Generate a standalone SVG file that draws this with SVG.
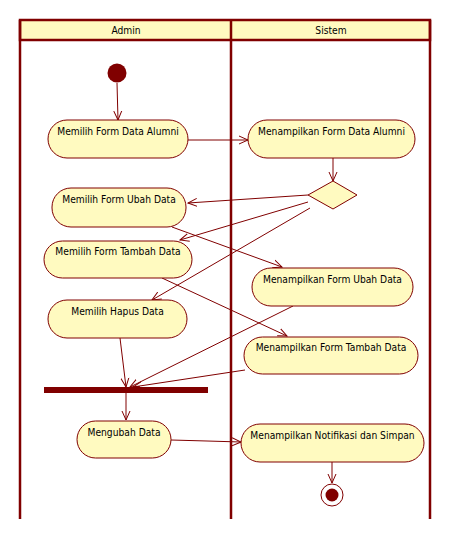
<svg xmlns="http://www.w3.org/2000/svg" width="451" height="539" viewBox="0 0 451 539">
<style>
.lane{fill:none;stroke:#800000;stroke-width:2.5}
.hdr{fill:#FFFAC0;stroke:#800000;stroke-width:2.5}
.act{fill:#FFFAC0;stroke:#800000;stroke-width:1}
.t{font-family:"DejaVu Sans Condensed","Liberation Sans",sans-serif;font-size:10.2px;fill:#000;text-anchor:middle}
.c{fill:none;stroke:#800000;stroke-width:1;marker-end:url(#ah)}
</style>
<defs>
<marker id="ah" viewBox="0 0 10 10" refX="9" refY="5" markerWidth="10" markerHeight="10" markerUnits="userSpaceOnUse" orient="auto">
<path d="M0,1 L9,5 L0,9" fill="none" stroke="#800000" stroke-width="1"/>
</marker>
</defs>
<rect x="0" y="0" width="451" height="539" fill="#fff"/>
<g id="lanes">
<rect class="hdr" x="20" y="20" width="410" height="20"/>
<line class="lane" x1="20" y1="20" x2="20" y2="519"/>
<line class="lane" x1="231" y1="20" x2="231" y2="519"/>
<line class="lane" x1="430" y1="20" x2="430" y2="519"/>
<text class="t" x="126" y="34">Admin</text>
<text class="t" x="331" y="34">Sistem</text>
</g>
<g id="connectors">
<line class="c" x1="117" y1="83" x2="118" y2="120"/>
<line class="c" x1="188" y1="140" x2="248" y2="140"/>
<line class="c" x1="333" y1="158" x2="333" y2="181"/>
<line class="c" x1="308" y1="195" x2="188" y2="203"/>
<line class="c" x1="308" y1="202" x2="180" y2="240"/>
<line class="c" x1="310" y1="208" x2="152" y2="300"/>
<line class="c" x1="172" y1="227" x2="282" y2="267"/>
<line class="c" x1="162" y1="278" x2="287" y2="336"/>
<line class="c" x1="120" y1="338" x2="126" y2="387"/>
<line class="c" x1="293" y1="306" x2="130" y2="387"/>
<line class="c" x1="245" y1="370" x2="133" y2="387"/>
<line class="c" x1="126" y1="393" x2="126" y2="420"/>
<polyline class="c" points="171,440 207,441 241,442"/>
<line class="c" x1="332" y1="462" x2="332" y2="483"/>
</g>
<g id="start"><circle cx="117" cy="73" r="9.5" fill="#800000"/></g>
<g id="n1"><rect class="act" x="48" y="120" width="140" height="38" rx="19"/><text class="t" x="118" y="135">Memilih Form Data Alumni</text></g>
<g id="n2"><rect class="act" x="248" y="120" width="167" height="38" rx="19"/><text class="t" x="331.5" y="135">Menampilkan Form Data Alumni</text></g>
<g id="decision"><polygon points="333,181 357,195 333,209 308,195" fill="#FFFAC0" stroke="#800000" stroke-width="1"/></g>
<g id="n3"><rect class="act" x="52" y="188" width="134" height="39" rx="19"/><text class="t" x="119" y="203">Memilih Form Ubah Data</text></g>
<g id="n4"><rect class="act" x="44" y="241" width="148" height="37" rx="18.5"/><text class="t" x="118" y="255">Memilih Form Tambah Data</text></g>
<g id="n5"><rect class="act" x="48" y="300" width="139" height="38" rx="19"/><text class="t" x="117.5" y="315">Memilih Hapus Data</text></g>
<g id="n6"><rect class="act" x="252" y="268" width="161" height="38" rx="19"/><text class="t" x="332.5" y="283">Menampilkan Form Ubah Data</text></g>
<g id="n7"><rect class="act" x="244" y="337" width="174" height="37" rx="18.5"/><text class="t" x="331" y="351">Menampilkan Form Tambah Data</text></g>
<g id="fork"><rect x="44" y="387" width="164" height="6" fill="#800000"/></g>
<g id="n8"><rect class="act" x="77" y="421" width="94" height="37" rx="18.5"/><text class="t" x="124" y="436">Mengubah Data</text></g>
<g id="n9"><rect class="act" x="241" y="424" width="183" height="38" rx="19"/><text class="t" x="332.5" y="439">Menampilkan Notifikasi dan Simpan</text></g>
<g id="end"><circle cx="332" cy="495" r="11" fill="#fff" stroke="#800000" stroke-width="1"/><circle cx="332" cy="495" r="6.5" fill="#800000"/></g>
</svg>
